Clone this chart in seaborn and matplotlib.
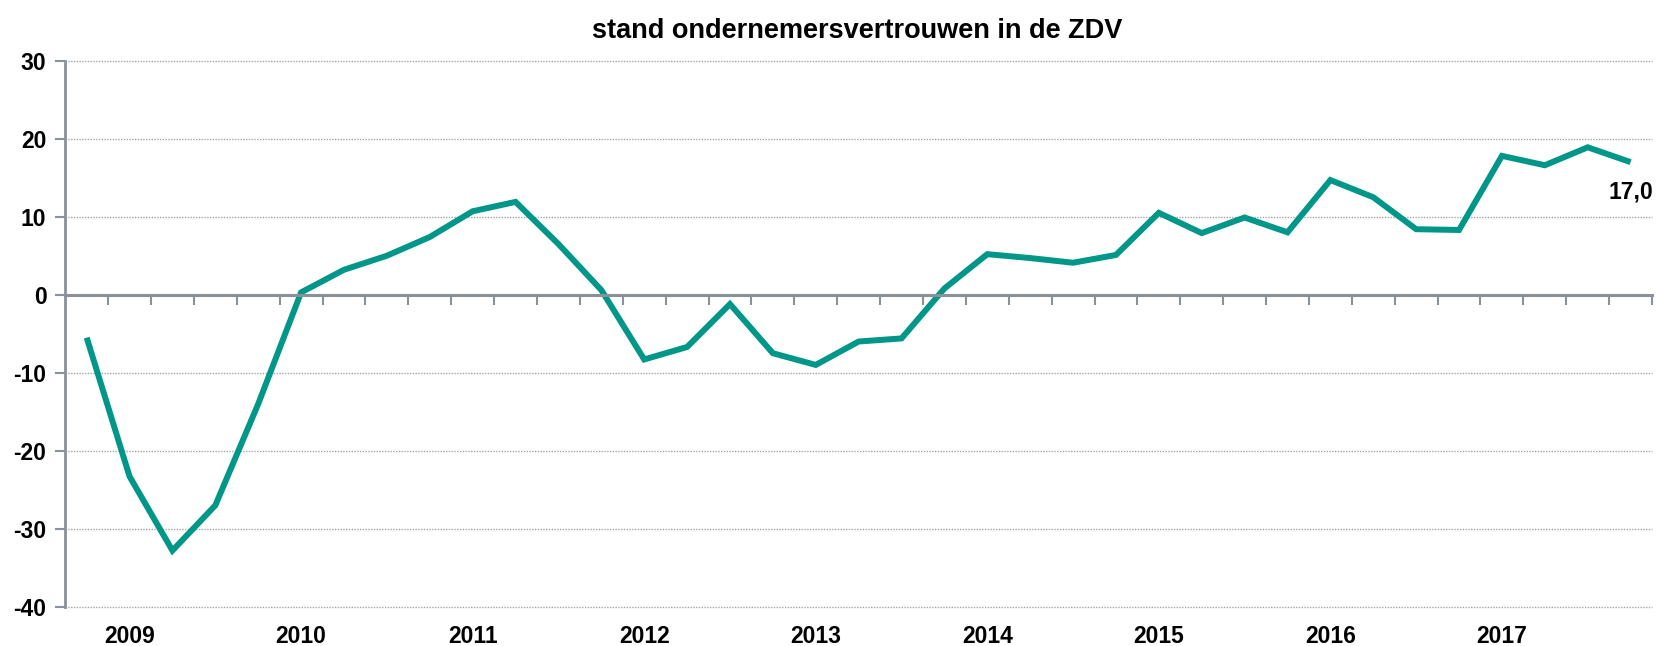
import matplotlib
matplotlib.use("Agg")
import matplotlib.pyplot as plt
import seaborn as sns
import pandas as pd
import numpy as np

# kwartalen 2008-K4 t/m 2017-K4
quarters = [
    "2008-K4",
    "2009-K1", "2009-K2", "2009-K3", "2009-K4",
    "2010-K1", "2010-K2", "2010-K3", "2010-K4",
    "2011-K1", "2011-K2", "2011-K3", "2011-K4",
    "2012-K1", "2012-K2", "2012-K3", "2012-K4",
    "2013-K1", "2013-K2", "2013-K3", "2013-K4",
    "2014-K1", "2014-K2", "2014-K3", "2014-K4",
    "2015-K1", "2015-K2", "2015-K3", "2015-K4",
    "2016-K1", "2016-K2", "2016-K3", "2016-K4",
    "2017-K1", "2017-K2", "2017-K3", "2017-K4",
]
values = [-5.5, -23.3, -32.8, -27.0, -14.0, 0.3, 3.2, 5.0, 7.4, 10.7, 11.9, 6.5,
          0.6, -8.3, -6.7, -1.2, -7.5, -9.0, -6.0, -5.6, 0.8, 5.2, 4.7, 4.1,
          5.1, 10.5, 7.9, 9.9, 8.0, 14.7, 12.5, 8.4, 8.3, 17.8, 16.6, 18.9, 17.0]
year_labels = ["2009", "2010", "2011", "2012", "2013", "2014", "2015", "2016", "2017"]
y_ticks = [-40, -30, -20, -10, 0, 10, 20, 30]
title = "stand ondernemersvertrouwen in de ZDV"

line_color = "#009688"
axis_color = "#8A9199"
fs = 16.5

sns.set_style("white")
plt.rcParams["font.family"] = ["Liberation Sans", "DejaVu Sans"]
plt.rcParams["font.weight"] = "bold"
plt.rcParams["axes.unicode_minus"] = False
plt.rcParams["text.color"] = "black"
plt.rcParams["xtick.color"] = "black"
plt.rcParams["ytick.color"] = "black"

df = pd.DataFrame({"kwartaal": quarters, "stand": values})
df["pos"] = np.arange(len(df))

fig = plt.figure(figsize=(16.6, 6.46), dpi=100)
ax = fig.add_axes([0.0393, 0.0608, 0.9559, 0.8452])

sns.lineplot(data=df, x="pos", y="stand", color=line_color, linewidth=4.3,
             ax=ax, legend=False)
ax.lines[0].set_solid_joinstyle("miter")
ax.lines[0].set_solid_capstyle("butt")

ax.set_xlim(-0.5, len(df) - 0.5)
ax.set_ylim(-40, 30)
ax.set_xlabel("")
ax.set_ylabel("")

# y-as
ax.set_yticks(y_ticks)
ax.set_yticklabels([str(v) for v in y_ticks])
ax.tick_params(axis="y", length=7, width=1.5, color=axis_color, pad=6.5,
               labelsize=fs, labelcolor="black", left=True)
ax.yaxis.grid(True, linestyle=(0, (1, 1)), color="#A6A6A6", linewidth=1)
for gl in ax.get_ygridlines():
    gl.set_clip_on(False)
ax.set_axisbelow(True)

for side in ["top", "right"]:
    ax.spines[side].set_visible(False)
ax.spines["left"].set_color(axis_color)
ax.spines["left"].set_linewidth(2)
ax.spines["bottom"].set_position(("data", 0))
ax.spines["bottom"].set_color(axis_color)
ax.spines["bottom"].set_linewidth(2.2)

# kwartaalstreepjes op de nullijn
ax.set_xticks(np.arange(len(df)) + 0.5, minor=True)
ax.set_xticks([])
ax.tick_params(axis="x", which="minor", length=7, width=1.5, color=axis_color,
               direction="out", bottom=True)

# jaartallen onder de grafiek
year_pos = [quarters.index(y + "-K1") for y in year_labels]
sec = ax.secondary_xaxis(0)
sec.set_xticks(year_pos, labels=year_labels)
sec.tick_params(length=0, pad=13.5, labelsize=fs, labelcolor="black")
sec.spines["bottom"].set_visible(False)

# laatste waarde
ax.annotate(f"{values[-1]:.1f}".replace(".", ","), xy=(df["pos"].iloc[-1], values[-1]),
            xytext=(0, -30), textcoords="offset pixels", ha="center", va="center",
            fontsize=fs, fontweight="bold", color="black")

fig.suptitle(title, x=0.5165, y=0.972, fontsize=19.5, fontweight="bold", color="black")

fig.savefig("out.png", dpi=100)
